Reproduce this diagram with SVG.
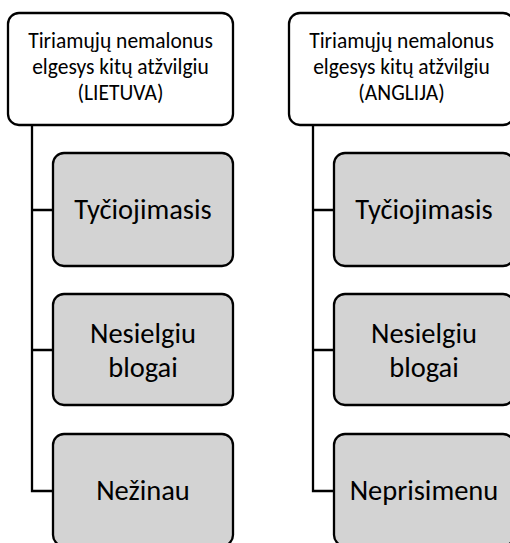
<svg xmlns="http://www.w3.org/2000/svg" width="510" height="543" viewBox="0 0 510 543">
<style>
.box{fill:#ffffff;stroke:#000;stroke-width:2.3}
.child{fill:#d3d3d3;stroke:#000;stroke-width:2.3}
.conn{fill:none;stroke:#000;stroke-width:2.3}
.t1{font-family:Carlito,Lato,"Open Sans",sans-serif;font-size:21.5px;fill:#000;text-anchor:middle}
.t2{font-family:Carlito,Lato,"Open Sans",sans-serif;font-size:28.5px;fill:#000;text-anchor:middle}
</style>
<rect width="510" height="543" fill="#fff"/>
<g id="connectors">
<path class="conn" d="M32,125 V491 H53 M32,210 H53 M32,350 H53"/>
<path class="conn" d="M313,125 V491 H334 M313,210 H334 M313,350 H334"/>
</g>
<g id="parent-lt">
<rect class="box" x="8" y="13" width="225" height="112" rx="11"/>
<text class="t1" x="120.5" y="48">Tiriamųjų nemalonus</text>
<text class="t1" x="120.5" y="74">elgesys kitų atžvilgiu</text>
<text class="t1" x="120.5" y="100">(LIETUVA)</text>
</g>
<g id="lt-1">
<rect class="child" x="53" y="153" width="180" height="113" rx="11"/>
<text class="t2" x="143" y="219">Tyčiojimasis</text>
</g>
<g id="lt-2">
<rect class="child" x="53" y="294" width="180" height="111" rx="11"/>
<text class="t2" x="143" y="343">Nesielgiu</text>
<text class="t2" x="143" y="377">blogai</text>
</g>
<g id="lt-3">
<rect class="child" x="53" y="434" width="180" height="112" rx="11"/>
<text class="t2" x="143" y="500">Nežinau</text>
</g>
<g id="parent-en">
<rect class="box" x="289" y="13" width="225" height="112" rx="11"/>
<text class="t1" x="401.5" y="48">Tiriamųjų nemalonus</text>
<text class="t1" x="401.5" y="74">elgesys kitų atžvilgiu</text>
<text class="t1" x="401.5" y="100">(ANGLIJA)</text>
</g>
<g id="en-1">
<rect class="child" x="334" y="153" width="180" height="113" rx="11"/>
<text class="t2" x="424" y="219">Tyčiojimasis</text>
</g>
<g id="en-2">
<rect class="child" x="334" y="294" width="180" height="111" rx="11"/>
<text class="t2" x="424" y="343">Nesielgiu</text>
<text class="t2" x="424" y="377">blogai</text>
</g>
<g id="en-3">
<rect class="child" x="334" y="434" width="180" height="112" rx="11"/>
<text class="t2" x="424" y="500">Neprisimenu</text>
</g>
</svg>
